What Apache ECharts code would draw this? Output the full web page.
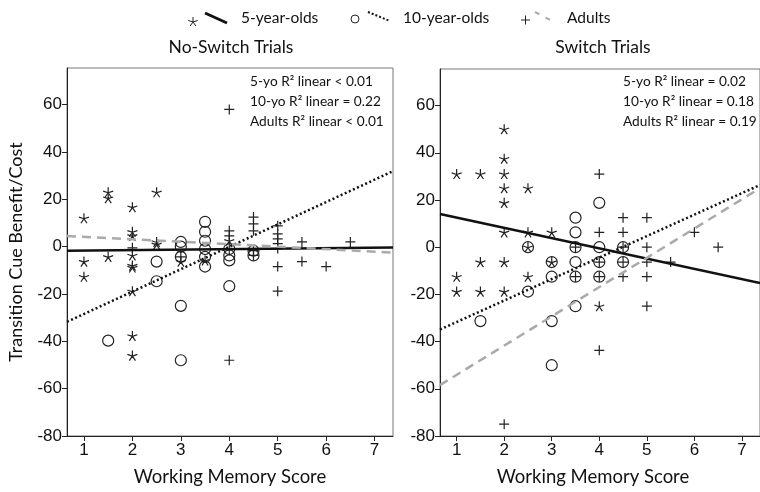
<!DOCTYPE html>
<html><head><meta charset="utf-8">
<script src="https://cdn.jsdelivr.net/npm/echarts@6/dist/echarts.min.js"></script>
<style>html,body{margin:0;padding:0;background:#fff}#c{width:760px;height:492px}</style>
</head><body><div id="c"></div>
<script>
// ---- tick labels ----
const xTicks = [1, 2, 3, 4, 5, 6, 7];
const yTicks = [-80, -60, -40, -20, 0, 20, 40, 60];
const panelTitles = ['No-Switch Trials', 'Switch Trials'];
const groupNames = ['5-year-olds', '10-year-olds', 'Adults'];
const nsR2 = ['5-yo R\u00b2 linear < 0.01', '10-yo R\u00b2 linear = 0.22', 'Adults R\u00b2 linear < 0.01'];
const swR2 = ['5-yo R\u00b2 linear = 0.02', '10-yo R\u00b2 linear = 0.18', 'Adults R\u00b2 linear = 0.19'];

// ---- No-Switch trials: [working memory score, benefit/cost] ----
const ns5yo = [[1,12],[1,-6.3],[1,-12.7],[1.5,23],[1.5,20.5],[1.5,-4.3],
  [2,16.7],[2,6.3],[2,4.6],[2,-3.7],[2,-8],[2,-8.8],[2,-18.8],[2,-37.7],[2,-46],
  [2.5,23],[2.5,2],[2.5,1],[3,-6.3],[3.5,-5.8],[4,2.5]];
const ns10yo = [[1.5,-39.7],[2.5,-6.3],[2.5,-14.6],[3,2],[3,0],[3,-4.3],[3,-25],[3,-48],
  [3.5,10.5],[3.5,6.3],[3.5,2.5],[3.5,-1],[3.5,-4.3],[3.5,-8.4],
  [4,-1],[4,-3.7],[4,-5.8],[4,-16.7],[4.5,-1.7],[4.5,-3.7]];
const nsAdults = [[2,-0.5],[3,-4.3],[4,58],[4,6.7],[4,4.6],[4,-1],[4,-48],
  [4.5,12.5],[4.5,9.6],[4.5,6.7],[4.5,-1.7],[4.5,-3.7],
  [5,8.8],[5,5.4],[5,3.3],[5,1.3],[5,-0.8],[5,-8.4],[5,-18.8],
  [5.5,2],[5.5,-6.3],[6,-8.4],[6.5,2]];
// fitted lines [intercept, slope]
const nsFit5yo = [-1.8, 0.2];
const nsFit10yo = [-37.9, 9.46];
const nsFitAdults = [5.2, -1.04];

// ---- Switch trials ----
const sw5yo = [[1,31],[1,-12.5],[1,-18.8],[1.5,31],[1.5,-6.3],[1.5,-18.8],
  [2,50],[2,37.5],[2,31],[2,25],[2,18.8],[2,6.3],[2,-6.3],[2,-18.8],
  [2.5,25],[2.5,6.3],[2.5,0],[2.5,-12.5],[3,6.3],[3,-6.3],[4,-25]];
const sw10yo = [[1.5,-31.3],[2.5,-18.8],[2.5,0],[3,-6.3],[3,-12.5],[3,-31.3],[3,-50],
  [3.5,12.5],[3.5,6.3],[3.5,0],[3.5,-6.3],[3.5,-12.5],[3.5,-25],
  [4,18.8],[4,0],[4,-6.3],[4,-12.5],[4.5,0],[4.5,-6.3]];
const swAdults = [[2,-75],[3.5,0],[3.5,-12.5],[4,31],[4,6.3],[4,-6.3],[4,-12.5],[4,-43.7],
  [4.5,12.5],[4.5,6.3],[4.5,0],[4.5,-6.3],[4.5,-12.5],
  [5,12.5],[5,0],[5,-6.3],[5,-12.5],[5,-25],[5.5,-6.3],[6,6.3],[6.5,0]];
const swFit5yo = [16.9, -4.35];
const swFit10yo = [-40.8, 9.1];
const swFitAdults = [-66.5, 12.4];

const X_MIN = 0.65, X_MAX = 7.38, Y_MIN = -80, Y_MAX = 75.5;

const starPath = 'path://M0,-10L0,0M9.51,-3.09L0,0M5.88,8.09L0,0M-5.88,8.09L0,0M-9.51,-3.09L0,0';
const plusPath = 'path://M-5,0L5,0M0,-5L0,5';
const ink = '#222';
const lblFont = '"Liberation Sans Narrow", "Liberation Sans", sans-serif';
const txtFont = 'Lato, "Open Sans", sans-serif';

function fitLine(fit) {
  return [[X_MIN, fit[0] + fit[1] * X_MIN], [X_MAX, fit[0] + fit[1] * X_MAX]];
}
function scatter(name, data, idx, symbol, size) {
  return {type: 'scatter', name, data, xAxisIndex: idx, yAxisIndex: idx,
    symbol, symbolSize: size, silent: true,
    itemStyle: {color: 'transparent', borderColor: ink, borderWidth: 1.2, opacity: 1}};
}
function line(name, fit, idx, color, type, width) {
  return {type: 'line', name, data: fitLine(fit), xAxisIndex: idx, yAxisIndex: idx,
    showSymbol: false, silent: true, clip: true, z: 3,
    lineStyle: {color, type, width}};
}
function xAxis(idx, nameShift) {
  return {type: 'value', gridIndex: idx, min: X_MIN, max: X_MAX,
    name: 'Working Memory Score', nameLocation: 'middle', nameGap: 32,
    nameTextStyle: {fontFamily: txtFont, fontSize: 18.5, color: '#111', padding: [0, nameShift, 0, 0]},
    axisLine: {onZero: false, lineStyle: {color: '#222', width: 1}},
    axisTick: {show: true, customValues: xTicks, length: 5, lineStyle: {color: '#222'}},
    axisLabel: {customValues: xTicks, fontFamily: lblFont, fontSize: 17, color: '#111', margin: 6},
    splitLine: {show: false}};
}
function yAxis(idx, withName) {
  const a = {type: 'value', gridIndex: idx, min: Y_MIN, max: Y_MAX,
    axisLine: {show: true, onZero: false, lineStyle: {color: '#222', width: 1}},
    axisTick: {show: true, customValues: yTicks, length: 5, lineStyle: {color: '#222'}},
    axisLabel: {customValues: yTicks, fontFamily: lblFont, fontSize: 17, color: '#111', margin: 5},
    splitLine: {show: false}};
  if (withName) {
    a.name = 'Transition Cue Benefit/Cost';
    a.nameLocation = 'middle';
    a.nameGap = 42;
    a.nameTextStyle = {fontFamily: txtFont, fontSize: 18, color: '#111'};
  }
  return a;
}
function txt(text, x, y, size, align) {
  return {type: 'text', x, y, silent: true,
    style: {text, fill: '#111', font: size + 'px ' + txtFont, align: align || 'left', verticalAlign: 'middle'}};
}
function seg(x1, y1, x2, y2, stroke, w, dash) {
  const s = {stroke, lineWidth: w};
  if (dash) s.lineDash = dash;
  return {type: 'line', silent: true, shape: {x1, y1, x2, y2}, style: s};
}
function legendStar(cx, cy, r) {
  const out = [];
  for (let k = 0; k < 5; k++) {
    const a = -Math.PI / 2 + k * 2 * Math.PI / 5;
    out.push(seg(cx, cy, cx + r * Math.cos(a), cy + r * Math.sin(a), ink, 1));
  }
  return out;
}

const graphics = [].concat(
  legendStar(193, 22, 5),
  [seg(205, 13, 227, 23, '#111', 3), txt(groupNames[0], 241, 18, 15.5),
   {type: 'circle', silent: true, shape: {cx: 355, cy: 19, r: 4}, style: {stroke: ink, fill: 'none', lineWidth: 1}},
   seg(368, 12, 390, 21, '#111', 2, [2, 2]), txt(groupNames[1], 403, 18, 15.5),
   seg(521, 20, 530, 20, ink, 1), seg(525.5, 15.5, 525.5, 24.5, ink, 1),
   seg(535, 12, 552, 21, '#aaa', 2, [5, 7]), txt(groupNames[2], 567, 18, 15.5),
   txt(panelTitles[0], 231, 47, 17.5, 'center'),
   txt(panelTitles[1], 603, 47, 17.5, 'center'),
   txt(nsR2[0], 250, 82, 13.7), txt(nsR2[1], 250, 102, 13.7), txt(nsR2[2], 250, 122, 13.7),
   txt(swR2[0], 623, 82, 13.7), txt(swR2[1], 623, 102, 13.7), txt(swR2[2], 623, 122, 13.7)]
);

const chart = echarts.init(document.getElementById('c'), null, {renderer: 'canvas'});
chart.setOption({
  animation: false,
  backgroundColor: '#fff',
  grid: [
    {left: 67, top: 68, width: 326, height: 372, show: true, borderColor: '#777', borderWidth: 1},
    {left: 440, top: 69, width: 326, height: 372, show: true, borderColor: '#777', borderWidth: 1}
  ],
  xAxis: [xAxis(0, 0), xAxis(1, 14)],
  yAxis: [yAxis(0, true), yAxis(1, false)],
  series: [
    scatter('ns5', ns5yo, 0, starPath, 10),
    scatter('ns10', ns10yo, 0, 'circle', 11),
    scatter('nsA', nsAdults, 0, plusPath, 10),
    line('ns5f', nsFit5yo, 0, '#111', 'solid', 2.5),
    line('ns10f', nsFit10yo, 0, '#111', [2, 2.5], 2.5),
    line('nsAf', nsFitAdults, 0, '#aaa', [9, 6], 2.5),
    scatter('sw5', sw5yo, 1, starPath, 10),
    scatter('sw10', sw10yo, 1, 'circle', 11),
    scatter('swA', swAdults, 1, plusPath, 10),
    line('sw5f', swFit5yo, 1, '#111', 'solid', 2.5),
    line('sw10f', swFit10yo, 1, '#111', [2, 2.5], 2.5),
    line('swAf', swFitAdults, 1, '#aaa', [9, 6], 2.5)
  ],
  graphic: graphics
});
</script></body></html>
